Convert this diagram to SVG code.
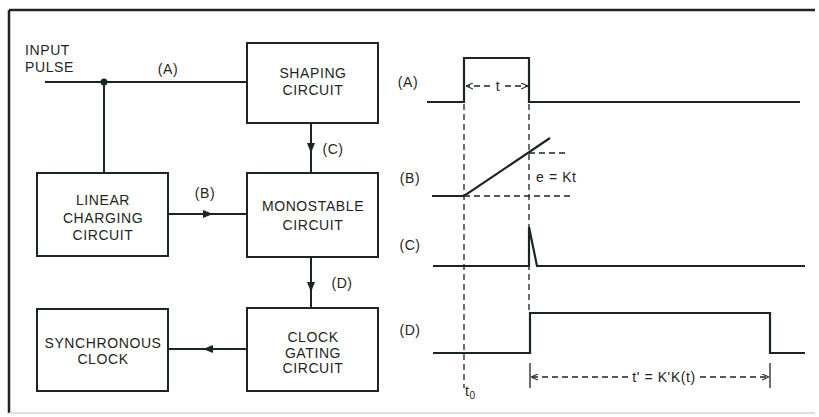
<svg xmlns="http://www.w3.org/2000/svg" width="819" height="417" viewBox="0 0 819 417">
<style>
text{font-family:"Liberation Sans",Arial,sans-serif;font-size:14px;fill:#1c2620;letter-spacing:0.6px}
.box{fill:none;stroke:#1c2620;stroke-width:2}
.ln{fill:none;stroke:#1c2620;stroke-width:2}
.wv{fill:none;stroke:#1c2620;stroke-width:2.2;stroke-linejoin:miter}
.ds{fill:none;stroke:#1c2620;stroke-width:1.3;stroke-dasharray:6,4}
.c{text-anchor:middle}
</style>
<defs>
<marker id="ah" viewBox="0 0 10 8" refX="10" refY="4" markerWidth="10" markerHeight="8" markerUnits="userSpaceOnUse" orient="auto">
<path d="M0,0 L10,4 L0,8 z" fill="#1c2620"/>
</marker>
<marker id="oh" viewBox="0 0 8 8" refX="8" refY="4" markerWidth="7" markerHeight="7" markerUnits="userSpaceOnUse" orient="auto">
<path d="M0,0.5 L8,4 L0,7.5" fill="none" stroke="#1c2620" stroke-width="1.3"/>
</marker>
</defs>
<rect width="819" height="417" fill="#ffffff"/>
<g id="frame">
<line x1="9" y1="10" x2="815" y2="10" stroke="#1c2620" stroke-width="2.5"/>
<line x1="9" y1="10" x2="9" y2="413" stroke="#1c2620" stroke-width="2.5"/>
<line x1="9" y1="413" x2="815" y2="413" stroke="#d6d6d6" stroke-width="1.5"/>
</g>
<g id="input-label">
<text x="25" y="55">INPUT</text>
<text x="25" y="72">PULSE</text>
</g>
<g id="shaping">
<rect class="box" x="247" y="43" width="131" height="80"/>
<text class="c" x="313" y="78">SHAPING</text>
<text class="c" x="313" y="95">CIRCUIT</text>
</g>
<g id="monostable">
<rect class="box" x="247" y="173" width="131" height="84"/>
<text class="c" x="313" y="211">MONOSTABLE</text>
<text class="c" x="313" y="230">CIRCUIT</text>
</g>
<g id="linear">
<rect class="box" x="37" y="173" width="131" height="83"/>
<text class="c" x="103" y="205">LINEAR</text>
<text class="c" x="103" y="223">CHARGING</text>
<text class="c" x="103" y="240">CIRCUIT</text>
</g>
<g id="gating">
<rect class="box" x="247" y="308" width="131" height="83"/>
<text class="c" x="313" y="342">CLOCK</text>
<text class="c" x="313" y="358">GATING</text>
<text class="c" x="313" y="373">CIRCUIT</text>
</g>
<g id="sync">
<rect class="box" x="37" y="309" width="131" height="82"/>
<text class="c" x="103" y="348">SYNCHRONOUS</text>
<text class="c" x="103" y="364">CLOCK</text>
</g>
<g id="connectors">
<line class="ln" x1="45" y1="82" x2="247" y2="82"/>
<circle cx="104" cy="82" r="3.5" fill="#1c2620"/>
<line class="ln" x1="104" y1="82" x2="104" y2="173"/>
<path class="ln" d="M311,123 L311,153 L311,173" marker-mid="url(#ah)"/>
<path class="ln" d="M168,214 L213,214 L247,214" marker-mid="url(#ah)"/>
<path class="ln" d="M311,257 L311,292 L311,308" marker-mid="url(#ah)"/>
<path class="ln" d="M247,349 L203,349 L168,349" marker-mid="url(#ah)"/>
<text class="c" x="168" y="74">(A)</text>
<text class="c" x="333" y="154">(C)</text>
<text class="c" x="205" y="198">(B)</text>
<text class="c" x="342" y="288">(D)</text>
</g>
<g id="waveforms">
<text class="c" x="408" y="87">(A)</text>
<text class="c" x="410" y="183">(B)</text>
<text class="c" x="410" y="250">(C)</text>
<text class="c" x="410" y="335">(D)</text>
<path class="wv" d="M427,102 L464,102 L464,58 L529,58 L529,102 L800,102"/>
<path class="wv" d="M432,196 L464,196 L550,138"/>
<path class="wv" d="M433,266 L529,266 L529,227 L537,266 L805,266"/>
<path class="wv" d="M433,353 L530,353 L530,313 L770,313 L770,353 L805,353"/>
<line class="ds" x1="464" y1="104" x2="464" y2="388"/>
<line class="ds" x1="529" y1="104" x2="529" y2="312"/>
<line class="ds" x1="464" y1="196" x2="572" y2="196"/>
<line class="ds" x1="529" y1="153" x2="566" y2="153"/>
<line class="ds" x1="490" y1="86" x2="466" y2="86" marker-end="url(#oh)"/>
<line class="ds" x1="505" y1="86" x2="528" y2="86" marker-end="url(#oh)"/>
<text class="c" x="498" y="91">t</text>
<text x="536" y="182">e = Kt</text>
<line x1="530" y1="363" x2="530" y2="388" stroke="#1c2620" stroke-width="1.3"/>
<line x1="770" y1="363" x2="770" y2="388" stroke="#1c2620" stroke-width="1.3"/>
<line class="ds" x1="628" y1="377" x2="531" y2="377" marker-end="url(#oh)"/>
<line class="ds" x1="700" y1="377" x2="769" y2="377" marker-end="url(#oh)"/>
<text class="c" x="664" y="382">t' = K'K(t)</text>
<text x="465" y="396">t<tspan font-size="10" dy="3">0</tspan></text>
</g>
</svg>
